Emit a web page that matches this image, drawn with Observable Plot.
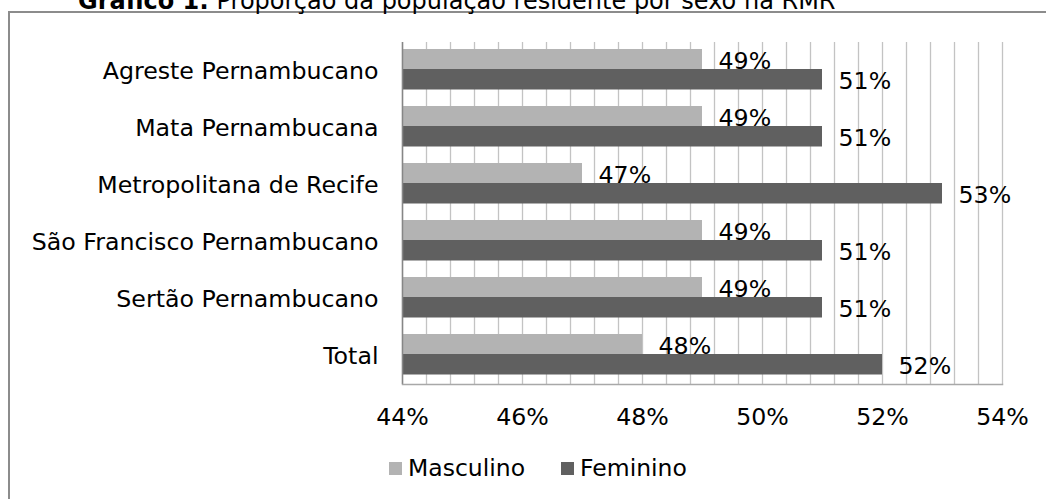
<!DOCTYPE html>
<html>
<head>
<meta charset="utf-8">
<script src="https://cdn.jsdelivr.net/npm/d3@7"></script>
<script src="https://cdn.jsdelivr.net/npm/@observablehq/plot@0.6"></script>
<style>
  html, body { margin: 0; padding: 0; background: #fff; overflow: hidden; }
  body { width: 1046px; height: 499px; position: relative; font-family: "DejaVu Sans", Verdana, sans-serif; }
  #chart { position: absolute; left: 0; top: 0; }
  #border { position: absolute; left: 8px; top: 11px; width: 1200px; height: 700px;
            border-top: 2px solid #8c8c8c; border-left: 2px solid #8c8c8c; pointer-events: none; }
  #title { position: absolute; left: 78px; top: -11.5px; font-size: 24px; line-height: 24px; white-space: nowrap; color: #000; }
  #legend { position: absolute; left: 389px; top: 455px; font-size: 23.5px; line-height: 26px; display: flex; align-items: center; color: #000; }
  .sw { display: inline-block; width: 13px; height: 13px; margin-right: 6px; }
  .item { display: flex; align-items: center; margin-right: 36px; }
</style>
</head>
<body>
<div id="chart"></div>
<div id="border"></div>
<div id="title"><b>Gráfico 1:</b> Proporção da população residente por sexo na RMR</div>
<div id="legend"></div>
<script>
const categories = ["Agreste Pernambucano", "Mata Pernambucana", "Metropolitana de Recife", "São Francisco Pernambucano", "Sertão Pernambucano", "Total"];
const masculino = [0.49, 0.49, 0.47, 0.49, 0.49, 0.48];
const feminino = [0.51, 0.51, 0.53, 0.51, 0.51, 0.52];
const series = ["Masculino", "Feminino"];
const colors = ["#b3b3b3", "#606060"];
const xTicks = [0.44, 0.46, 0.48, 0.50, 0.52, 0.54];
const gridTicks = d3.range(26).map(i => 0.44 + i * 0.004);

const mData = categories.map((c, i) => ({category: c, value: masculino[i]}));
const fData = categories.map((c, i) => ({category: c, value: feminino[i]}));
const fmt = d3.format(".0%");

const plot = Plot.plot({
  width: 1046,
  height: 440,
  marginLeft: 402,
  marginRight: 44,
  marginTop: 42,
  marginBottom: 56,
  style: {fontFamily: "DejaVu Sans, Verdana, sans-serif", fontSize: "23.7px", background: "transparent", color: "#000"},
  x: {domain: [0.44, 0.54], ticks: xTicks, tickFormat: fmt, label: null},
  y: {domain: categories, padding: 0, label: null},
  marks: [
    Plot.ruleX(gridTicks, {stroke: "#c3c3c3", strokeWidth: 1.3}),
    Plot.barX(mData, {x1: 0.44, x2: "value", y: "category", fill: colors[0], insetTop: 7, insetBottom: 29.5}),
    Plot.barX(fData, {x1: 0.44, x2: "value", y: "category", fill: colors[1], insetTop: 27, insetBottom: 9.5}),
    Plot.ruleX([0.44], {stroke: "#868686", strokeWidth: 1.5}),
    Plot.frame({anchor: "bottom", stroke: "#a8a8a8", strokeWidth: 1.5}),
    Plot.text(mData, {x: "value", y: "category", text: d => fmt(d.value), dx: 16, dy: -10, textAnchor: "start", fill: "#000"}),
    Plot.text(fData, {x: "value", y: "category", text: d => fmt(d.value), dx: 16, dy: 10.5, textAnchor: "start", fill: "#000"}),
    Plot.axisY({tickSize: 0, tickPadding: 24, label: null}),
    Plot.axisX({tickSize: 0, tickPadding: 24, ticks: xTicks, tickFormat: fmt, label: null})
  ]
});
document.getElementById("chart").appendChild(plot);

const legend = document.getElementById("legend");
series.forEach((s, i) => {
  const item = document.createElement("span");
  item.className = "item";
  const sw = document.createElement("span");
  sw.className = "sw";
  sw.style.background = colors[i];
  item.appendChild(sw);
  item.appendChild(document.createTextNode(s));
  legend.appendChild(item);
});
</script>
</body>
</html>
